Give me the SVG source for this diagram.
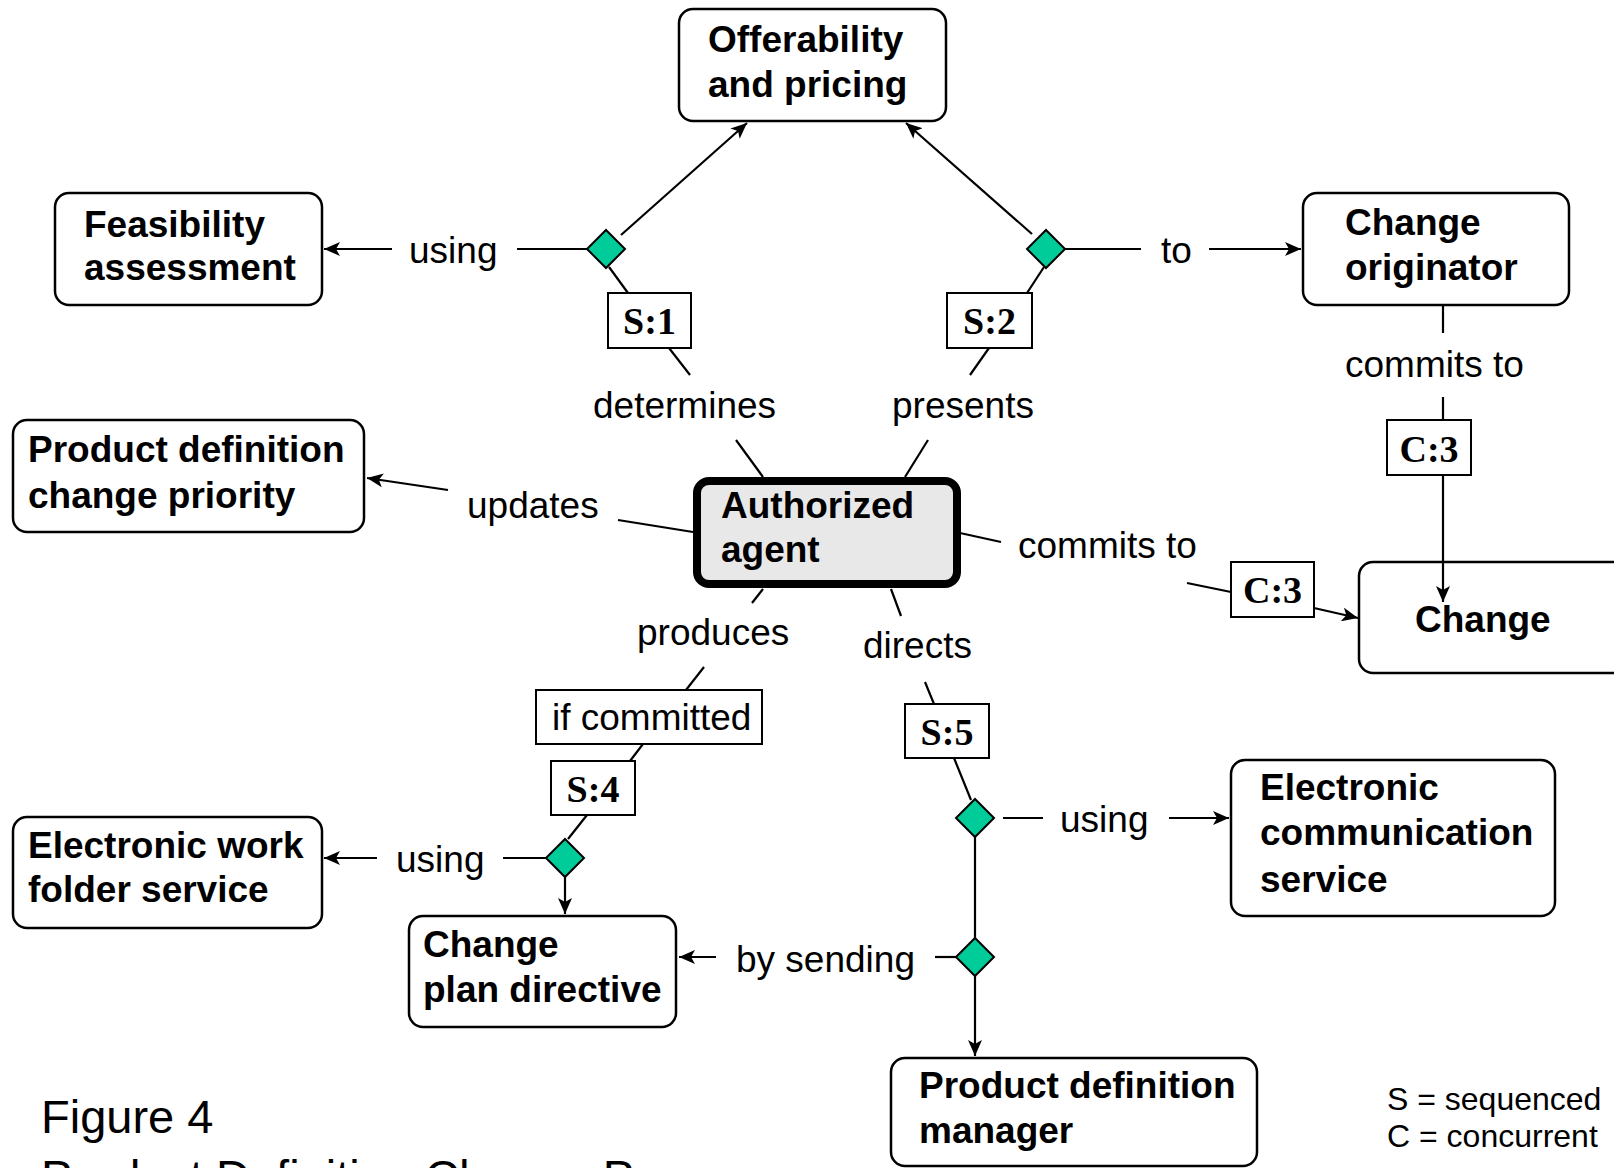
<svg xmlns="http://www.w3.org/2000/svg" width="1614" height="1168" viewBox="0 0 1614 1168">
<defs>
<marker id="arr" markerUnits="userSpaceOnUse" markerWidth="18" markerHeight="14" refX="16" refY="7" orient="auto">
<path d="M0,0 L16,7 L0,14 L4,7 z" fill="#000"/>
</marker>
<style>
.node rect{fill:#fff;stroke:#000;stroke-width:2.5}
.node text{font-family:"Liberation Sans",Arial,sans-serif;font-weight:bold;font-size:37px;fill:#000}
.lbl{font-family:"Liberation Sans",Arial,sans-serif;font-size:37px;fill:#000}
.tag rect{fill:#fff;stroke:#000;stroke-width:2}
.tag text{font-family:"Liberation Serif","Times New Roman",serif;font-weight:bold;font-size:38px;text-anchor:middle;fill:#000}
.tag text.plain{font-family:"Liberation Sans",Arial,sans-serif;font-weight:normal;font-size:37px;text-anchor:start}
.conn line{stroke:#000;stroke-width:2.2;fill:none}
.conn .a{marker-end:url(#arr)}
.dia{fill:#00CC99;stroke:#000;stroke-width:2}
</style>
</defs>
<rect width="1614" height="1168" fill="#fff"/>

<g id="node-offerability" class="node"><rect x="679" y="9" width="267" height="112" rx="14"/><text x="708" y="52">Offerability</text><text x="708" y="97">and pricing</text></g>
<g id="node-feasibility" class="node"><rect x="55" y="193" width="267" height="112" rx="14"/><text x="84" y="237">Feasibility</text><text x="84" y="280">assessment</text></g>
<g id="node-originator" class="node"><rect x="1303" y="193" width="266" height="112" rx="14"/><text x="1345" y="235">Change</text><text x="1345" y="280">originator</text></g>
<g id="node-priority" class="node"><rect x="13" y="420" width="351" height="112" rx="14"/><text x="28" y="462">Product definition</text><text x="28" y="508">change priority</text></g>
<g id="node-agent" class="node"><rect x="697" y="481" width="260" height="103" rx="12" style="fill:#e8e8e8;stroke-width:8"/><text x="721" y="518">Authorized</text><text x="721" y="562">agent</text></g>
<g id="node-change" class="node"><rect x="1359" y="562" width="300" height="111" rx="14"/><text x="1415" y="632">Change</text></g>
<g id="node-ecs" class="node"><rect x="1231" y="760" width="324" height="156" rx="14"/><text x="1260" y="800">Electronic</text><text x="1260" y="845">communication</text><text x="1260" y="892">service</text></g>
<g id="node-ewfs" class="node"><rect x="13" y="817" width="309" height="111" rx="14"/><text x="28" y="858">Electronic work</text><text x="28" y="902">folder service</text></g>
<g id="node-cpd" class="node"><rect x="409" y="916" width="267" height="111" rx="14"/><text x="423" y="957">Change</text><text x="423" y="1002">plan directive</text></g>
<g id="node-pdm" class="node"><rect x="891" y="1058" width="366" height="108" rx="14"/><text x="919" y="1098">Product definition</text><text x="919" y="1143">manager</text></g>

<g id="connectors" class="conn">
<line class="a" x1="621" y1="235" x2="747" y2="123"/>
<line class="a" x1="1032" y1="234" x2="906" y2="123"/>
<line class="a" x1="392" y1="249" x2="324" y2="249"/>
<line x1="517" y1="249" x2="588" y2="249"/>
<line x1="1065" y1="249" x2="1141" y2="249"/>
<line class="a" x1="1209" y1="249" x2="1301" y2="249"/>
<line x1="609" y1="267" x2="628" y2="293"/>
<line x1="669" y1="348" x2="690" y2="375"/>
<line x1="736" y1="440" x2="763" y2="477"/>
<line x1="1044" y1="267" x2="1027" y2="293"/>
<line x1="989" y1="348" x2="970" y2="375"/>
<line x1="928" y1="440" x2="905" y2="477"/>
<line x1="618" y1="520" x2="693" y2="532"/>
<line class="a" x1="448" y1="490" x2="367" y2="478"/>
<line x1="960" y1="533" x2="1001" y2="542"/>
<line x1="1187" y1="583" x2="1231" y2="592"/>
<line class="a" x1="1314" y1="608" x2="1358" y2="618"/>
<line x1="1443" y1="305" x2="1443" y2="333"/>
<line x1="1443" y1="397" x2="1443" y2="420"/>
<line class="a" x1="1443" y1="475" x2="1443" y2="602"/>
<line x1="763" y1="589" x2="752" y2="603"/>
<line x1="704" y1="667" x2="686" y2="690"/>
<line x1="643" y1="744" x2="630" y2="761"/>
<line x1="587" y1="815" x2="568" y2="839"/>
<line x1="503" y1="858" x2="546" y2="858"/>
<line class="a" x1="377" y1="858" x2="324" y2="858"/>
<line class="a" x1="565" y1="877" x2="565" y2="914"/>
<line x1="891" y1="589" x2="901" y2="616"/>
<line x1="925" y1="682" x2="934" y2="704"/>
<line x1="954" y1="758" x2="971" y2="800"/>
<line x1="1003" y1="818" x2="1043" y2="818"/>
<line class="a" x1="1169" y1="818" x2="1229" y2="818"/>
<line x1="975" y1="837" x2="975" y2="938"/>
<line x1="935" y1="957" x2="956" y2="957"/>
<line class="a" x1="716" y1="957" x2="679" y2="957"/>
<line class="a" x1="975" y1="976" x2="975" y2="1056"/>
</g>

<g id="junctions">
<polygon class="dia" points="606,230 625,249 606,268 587,249"/>
<polygon class="dia" points="1046,230 1065,249 1046,268 1027,249"/>
<polygon class="dia" points="565,839 584,858 565,877 546,858"/>
<polygon class="dia" points="975,799 994,818 975,837 956,818"/>
<polygon class="dia" points="975,938 994,957 975,976 956,957"/>
</g>

<g id="edge-labels" class="lbl">
<text x="409" y="263">using</text>
<text x="1161" y="263">to</text>
<text x="593" y="418">determines</text>
<text x="892" y="418">presents</text>
<text x="1345" y="377">commits to</text>
<text x="467" y="518">updates</text>
<text x="1018" y="558">commits to</text>
<text x="637" y="645">produces</text>
<text x="863" y="658">directs</text>
<text x="1060" y="832">using</text>
<text x="396" y="872">using</text>
<text x="736" y="972">by sending</text>
</g>

<g id="tag-s1" class="tag"><rect x="608" y="293" width="83" height="55"/><text x="649.5" y="334">S:1</text></g>
<g id="tag-s2" class="tag"><rect x="947" y="293" width="85" height="55"/><text x="989.5" y="334">S:2</text></g>
<g id="tag-c3a" class="tag"><rect x="1387" y="420" width="84" height="55"/><text x="1429" y="462">C:3</text></g>
<g id="tag-c3b" class="tag"><rect x="1231" y="562" width="83" height="55"/><text x="1272.5" y="603">C:3</text></g>
<g id="tag-if" class="tag"><rect x="536" y="690" width="226" height="54"/><text class="plain" x="552" y="730">if committed</text></g>
<g id="tag-s4" class="tag"><rect x="551" y="761" width="84" height="54"/><text x="593" y="802">S:4</text></g>
<g id="tag-s5" class="tag"><rect x="905" y="704" width="84" height="54"/><text x="947" y="745">S:5</text></g>

<g id="legend" style="font-family:'Liberation Sans',Arial,sans-serif;font-size:32px;fill:#000">
<text x="1387" y="1110">S = sequenced</text>
<text x="1387" y="1147">C = concurrent</text>
</g>
<g id="caption" style="font-family:'Liberation Sans',Arial,sans-serif;font-size:47px;fill:#000">
<text x="41" y="1133">Figure 4</text>
<text x="41" y="1193">Product Definition Change Process</text>
</g>
</svg>
